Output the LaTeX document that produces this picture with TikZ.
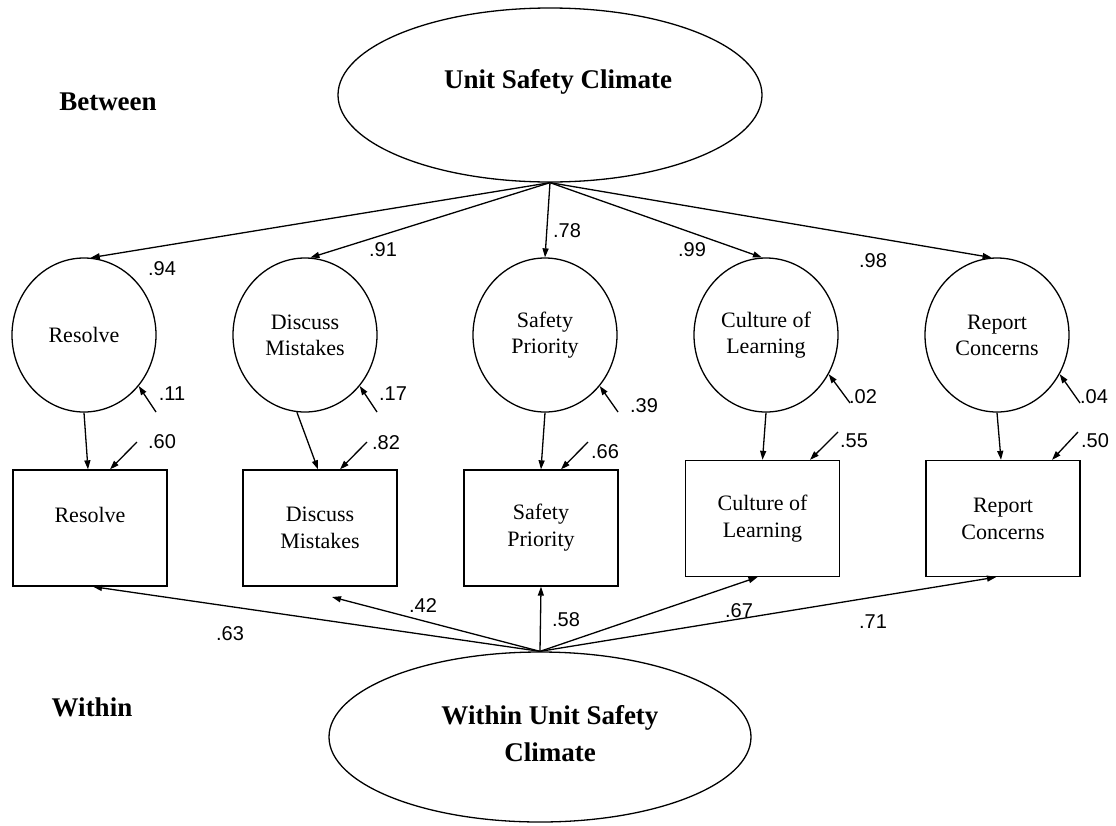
\documentclass[tikz,border=0pt]{standalone}
\usepackage{fontspec}
\setmainfont{Liberation Serif}
\newfontfamily\numfont{Liberation Sans}
\usetikzlibrary{shapes.geometric,arrows.meta,calc}
\begin{document}
\begin{tikzpicture}[x=1pt,y=-1pt,
  line width=1.3pt,
  arr/.style={-{Triangle[length=9pt,width=6pt]}},
  latent/.style={draw, ellipse, minimum width=144pt, minimum height=154pt, inner sep=0pt, align=center, font=\fontsize{22}{26}\selectfont},
  obs/.style={draw, rectangle, minimum width=154pt, minimum height=116pt, inner sep=0pt, align=center, font=\fontsize{22}{27}\selectfont},
  big/.style={draw, ellipse, inner sep=0pt},
  bold/.style={font=\fontsize{27}{37}\selectfont\bfseries, align=center},
  num/.style={font=\numfont\fontsize{20}{20}\selectfont, inner sep=0pt},
]
\useasboundingbox (0,0) rectangle (1116,825);

% factor ellipses
\node[big, minimum width=424pt, minimum height=174pt,
  label={[bold, xshift=8pt, yshift=13pt]center:Unit Safety Climate}] (top) at (550,95) {};
\node[big, minimum width=422pt, minimum height=170pt,
  label={[bold, xshift=10pt, yshift=3pt]center:Within Unit Safety\\Climate}] (bot) at (540,737) {};

\node[bold] (between) at (108,102) {Between};
\node[bold] (within) at (92,707) {Within};

% latent circles
\node[latent] (c1) at (84,335) {Resolve};
\node[latent] (c2) at (305,335) {Discuss\\Mistakes};
\node[latent] (c3) at (545,335) {Safety\\Priority};
\node[latent] (c4) at (766,335) {Culture of\\Learning};
\node[latent] (c5) at (997,335) {Report\\Concerns};

% observed boxes
\node[obs] (b1) at (90,528) {Resolve\\\mbox{}};
\node[obs] (b2) at (320,528) {Discuss\\Mistakes};
\node[obs] (b3) at (541,528) {Safety\\Priority};
\node[obs] (b4) at (762.5,518.5) {Culture of\\Learning};
\node[obs] (b5) at (1003,518.5) {Report\\Concerns};

% between loadings
\draw[arr] (top.south) -- (c1.85);
\draw[arr] (top.south) -- (c2.86);
\draw[arr] (top.south) -- (c3.north);
\draw[arr] (top.south) -- (c4.93);
\draw[arr] (top.south) -- (c5.94);

% circle to box
\draw[arr] (c1.south) -- ([xshift=-2pt]b1.north);
\draw[arr] (c2.264) -- ([xshift=-2pt]b2.north);
\draw[arr] (c3.south) -- (b3.north);
\draw[arr] (c4.south) -- (b4.north);
\draw[arr] (c5.south) -- ([xshift=-2pt]b5.north);

% residuals on latent
\coordinate (r1) at (156,412);
\coordinate (r2) at (377,412);
\coordinate (r3) at (618,412);
\coordinate (r4) at (850,403);
\coordinate (r5) at (1080,403);
\draw[arr] (r1) -- (c1.-43);
\draw[arr] (r2) -- (c2.-43);
\draw[arr] (r3) -- (c3.-43);
\draw[arr] (r4) -- (c4.-32);
\draw[arr] (r5) -- (c5.-32);

% errors on boxes
\coordinate (e1) at (137,442);
\coordinate (e2) at (367,442);
\coordinate (e3) at (588,442);
\coordinate (e4) at (838,432);
\coordinate (e5) at (1078,432);
\draw[arr] (e1) -- ([xshift=20pt]b1.north);
\draw[arr] (e2) -- ([xshift=20pt]b2.north);
\draw[arr] (e3) -- ([xshift=20pt]b3.north);
\draw[arr] (e4) -- ([xshift=47.5pt]b4.north);
\draw[arr] (e5) -- ([xshift=49pt]b5.north);

% within loadings
\coordinate (d2) at (332,597);
\draw[arr] (bot.north) -- ([xshift=3pt]b1.south);
\draw[arr] (bot.north) -- (d2);
\draw[arr] (bot.north) -- (b3.south);
\draw[arr] (bot.north) -- ([xshift=-5pt]b4.south);
\draw[arr] (bot.north) -- ([xshift=-7pt]b5.south);

% numbers
\node[num] (l94) at (162,269) {.94};
\node[num] (l91) at (383,250) {.91};
\node[num] (l78) at (567,231) {.78};
\node[num] (l99) at (692,250) {.99};
\node[num] (l98) at (873,261) {.98};
\node[num] (l11) at (172,394) {.11};
\node[num] (l17) at (393,394) {.17};
\node[num] (l39) at (644,406) {.39};
\node[num] (l02) at (863,397) {.02};
\node[num] (l04) at (1094,397) {.04};
\node[num] (l60) at (162,442) {.60};
\node[num] (l82) at (386,443) {.82};
\node[num] (l66) at (605,452) {.66};
\node[num] (l55) at (854,441) {.55};
\node[num] (l50) at (1095,441) {.50};
\node[num] (l63) at (230,634) {.63};
\node[num] (l42) at (423,606) {.42};
\node[num] (l58) at (566,620) {.58};
\node[num] (l67) at (739,611) {.67};
\node[num] (l71) at (873,622) {.71};
\end{tikzpicture}
\end{document}
